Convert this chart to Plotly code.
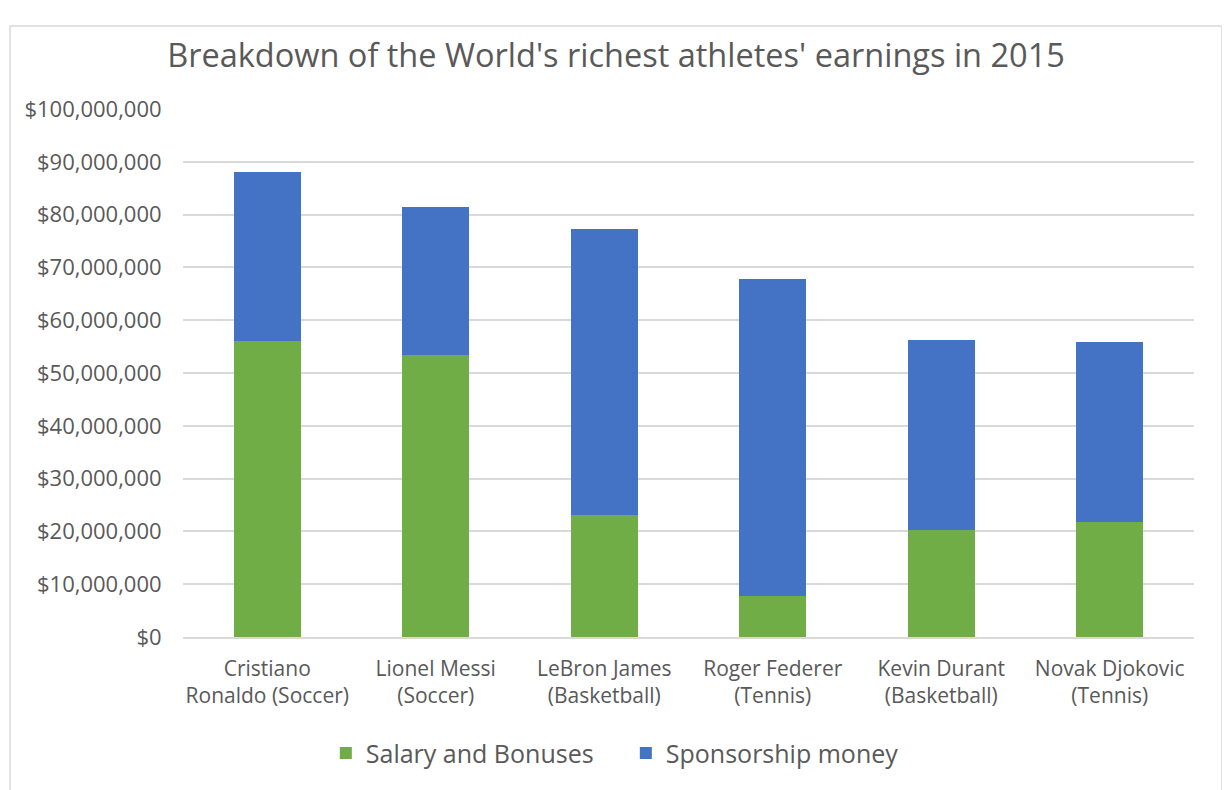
import plotly.graph_objects as go

athletes = ["Cristiano<br>Ronaldo (Soccer)", "Lionel Messi<br>(Soccer)", "LeBron James<br>(Basketball)",
            "Roger Federer<br>(Tennis)", "Kevin Durant<br>(Basketball)", "Novak Djokovic<br>(Tennis)"]
salary = [56000000, 53400000, 23200000, 7800000, 20200000, 21800000]
sponsorship = [32000000, 28000000, 54000000, 60000000, 36000000, 34000000]
y_ticks = list(range(0, 100000001, 10000000))

FONT = "Open Sans"
GREY = "#595959"

fig = go.Figure()
fig.add_trace(go.Bar(name="Salary and Bonuses", x=athletes, y=salary,
                     marker=dict(color="#70AD47", line=dict(width=0))))
fig.add_trace(go.Bar(name="Sponsorship money", x=athletes, y=sponsorship,
                     marker=dict(color="#4472C4", line=dict(width=0))))

fig.update_layout(
    barmode="stack",
    bargap=0.6,
    width=1230, height=790,
    margin=dict(l=175, r=44, t=101, b=161),
    paper_bgcolor="white", plot_bgcolor="white",
    font=dict(family=FONT, color=GREY),
    title=dict(text="Breakdown of the World's richest athletes' earnings in 2015",
               x=608/1230, xanchor="center", y=1-48/790, yanchor="middle",
               font=dict(size=32.5, color=GREY, family=FONT)),
    legend=dict(orientation="h", x=0.438, xanchor="center", y=-0.22, yanchor="middle",
                font=dict(size=25, color=GREY, family=FONT), traceorder="normal",
                entrywidth=255, entrywidthmode="pixels"),
    showlegend=True,
)
fig.update_xaxes(showgrid=False, showline=True, linecolor="#D9D9D9", linewidth=1.5,
                 ticks="outside", ticklen=12, tickcolor="rgba(0,0,0,0)",
                 tickfont=dict(size=21, color=GREY, family=FONT))
fig.update_yaxes(range=[0, 100000000], tickvals=y_ticks,
                 tickformat="$,.0f", showgrid=True, gridcolor="#D9D9D9", gridwidth=1.5,
                 zeroline=False, showline=False,
                 ticks="outside", ticklen=16, tickcolor="rgba(0,0,0,0)",
                 tickfont=dict(size=22, color=GREY, family=FONT))

fig.add_shape(type="rect", xref="paper", yref="paper",
              x0=(10-183)/1011, x1=(1222-183)/1011, y0=(637-800)/528, y1=(637-26)/528,
              line=dict(color="#D9D9D9", width=1.5), fillcolor="rgba(0,0,0,0)", layer="below")

fig.write_html("out.html")
